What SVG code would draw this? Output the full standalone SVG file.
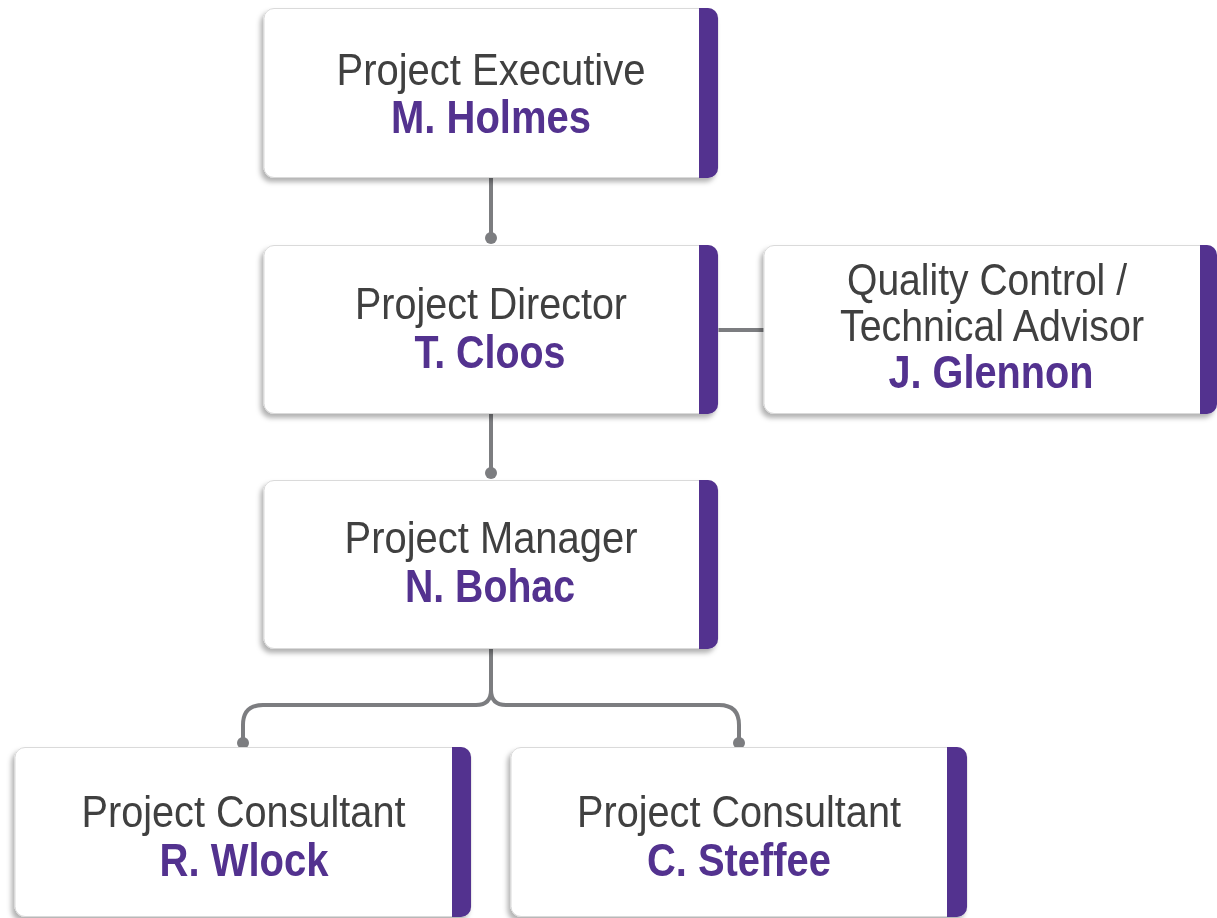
<svg xmlns="http://www.w3.org/2000/svg" width="1217" height="918" viewBox="0 0 1217 918">
  <defs>
    <filter id="shadow" x="-10%" y="-10%" width="120%" height="130%">
      <feDropShadow dx="-3" dy="4" stdDeviation="2.5" flood-color="#000" flood-opacity="0.3"/>
    </filter>
  </defs>
  <style>
    .card { fill: #ffffff; stroke: #dadada; stroke-width: 1; }
    .bar { fill: #52308f; }
    .role { font-family: "Liberation Sans", Arial, sans-serif; font-size: 44px; fill: #404040; text-anchor: middle; }
    .name { font-family: "Liberation Sans", Arial, sans-serif; font-size: 46px; font-weight: bold; fill: #52308f; text-anchor: middle; }
    .link { fill: none; stroke: #7c7d80; stroke-width: 4; }
    .dot { fill: #7c7d80; }
  </style>

  <rect width="1217" height="918" fill="#ffffff"/>

  <!-- connectors -->
  <g id="connectors">
    <path class="link" d="M491,178 V238"/>
    <circle class="dot" cx="491" cy="238" r="6"/>
    <path class="link" d="M491,413 V473"/>
    <circle class="dot" cx="491" cy="473" r="6"/>
    <path class="link" d="M718,330 H764"/>
    <path class="link" d="M491,648 V690 Q491,705 476,705 H263 Q243,705 243,725 V743"/>
    <path class="link" d="M491,690 Q491,705 506,705 H719 Q739,705 739,725 V743"/>
    <circle class="dot" cx="243" cy="743" r="6"/>
    <circle class="dot" cx="739" cy="743" r="6"/>
  </g>

  <!-- Project Executive -->
  <g id="node-executive" filter="url(#shadow)">
    <rect class="card" x="264" y="8.5" width="454" height="169" rx="10"/>
    <path class="bar" d="M699,8 H708 A10,10 0 0 1 718,18 V168 A10,10 0 0 1 708,178 H699 Z"/>
    <text class="role" x="491" y="85" textLength="309" lengthAdjust="spacingAndGlyphs">Project Executive</text>
    <text class="name" x="491" y="133" textLength="200" lengthAdjust="spacingAndGlyphs">M. Holmes</text>
  </g>

  <!-- Project Director -->
  <g id="node-director" filter="url(#shadow)">
    <rect class="card" x="264" y="245.5" width="454" height="168" rx="10"/>
    <path class="bar" d="M699,245 H708 A10,10 0 0 1 718,255 V404 A10,10 0 0 1 708,414 H699 Z"/>
    <text class="role" x="491" y="319" textLength="272" lengthAdjust="spacingAndGlyphs">Project Director</text>
    <text class="name" x="490" y="368" textLength="151" lengthAdjust="spacingAndGlyphs">T. Cloos</text>
  </g>

  <!-- Quality Control / Technical Advisor -->
  <g id="node-quality" filter="url(#shadow)">
    <rect class="card" x="764" y="245.5" width="452" height="168" rx="10"/>
    <path class="bar" d="M1200,245 H1207 A10,10 0 0 1 1217,255 V404 A10,10 0 0 1 1207,414 H1200 Z"/>
    <text class="role" x="987" y="295" textLength="280" lengthAdjust="spacingAndGlyphs">Quality Control /</text>
    <text class="role" x="992" y="341" textLength="304" lengthAdjust="spacingAndGlyphs">Technical Advisor</text>
    <text class="name" x="991" y="388" textLength="205" lengthAdjust="spacingAndGlyphs">J. Glennon</text>
  </g>

  <!-- Project Manager -->
  <g id="node-manager" filter="url(#shadow)">
    <rect class="card" x="264" y="480.5" width="454" height="168" rx="10"/>
    <path class="bar" d="M699,480 H708 A10,10 0 0 1 718,490 V639 A10,10 0 0 1 708,649 H699 Z"/>
    <text class="role" x="491" y="553" textLength="293" lengthAdjust="spacingAndGlyphs">Project Manager</text>
    <text class="name" x="490" y="602" textLength="170" lengthAdjust="spacingAndGlyphs">N. Bohac</text>
  </g>

  <!-- Project Consultant (left) -->
  <g id="node-consultant-wlock" filter="url(#shadow)">
    <rect class="card" x="15" y="747.5" width="456" height="169" rx="10"/>
    <path class="bar" d="M452,747 H461 A10,10 0 0 1 471,757 V907 A10,10 0 0 1 461,917 H452 Z"/>
    <text class="role" x="243.5" y="827" textLength="324" lengthAdjust="spacingAndGlyphs">Project Consultant</text>
    <text class="name" x="244" y="876" textLength="169" lengthAdjust="spacingAndGlyphs">R. Wlock</text>
  </g>

  <!-- Project Consultant (right) -->
  <g id="node-consultant-steffee" filter="url(#shadow)">
    <rect class="card" x="511" y="747.5" width="456" height="169" rx="10"/>
    <path class="bar" d="M947,747 H957 A10,10 0 0 1 967,757 V907 A10,10 0 0 1 957,917 H947 Z"/>
    <text class="role" x="739" y="827" textLength="324" lengthAdjust="spacingAndGlyphs">Project Consultant</text>
    <text class="name" x="739" y="876" textLength="184" lengthAdjust="spacingAndGlyphs">C. Steffee</text>
  </g>
</svg>
